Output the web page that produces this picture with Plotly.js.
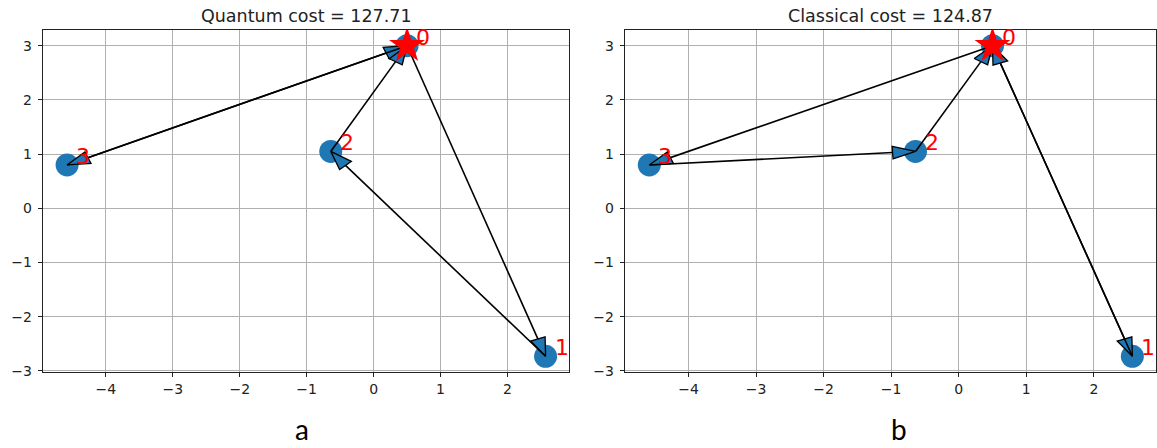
<!DOCTYPE html>
<html>
<head>
<meta charset="utf-8">
<script src="https://cdn.plot.ly/plotly-3.0.1.min.js"></script>
<style>html,body{margin:0;padding:0;background:#fff;}#chart{width:1157px;height:448px;}</style>
</head>
<body>
<div id="chart"></div>
<script>
// ---- data ----
const nodeX = [0.5, 2.57, -0.64, -4.58];
const nodeY = [3.0, -2.73, 1.05, 0.80];
const nodeLabels = ['0', '1', '2', '3'];
const depotIndex = 0;
const quantumEdges = [[0, 1], [1, 2], [2, 0], [3, 0], [0, 3]];
const classicalEdges = [[0, 1], [1, 0], [2, 0], [3, 2], [0, 3]];
const quantumTitle = 'Quantum cost = 127.71';
const classicalTitle = 'Classical cost = 124.87';
const panelCaptions = ['a', 'b'];

// ---- styling ----
const BLUE = '#1f77b4';
const HEAD_W = 0.23, HEAD_L = 0.34;
const traces = [];
const annotations = [];

function panel(edges, xa, ya, title, caption, captionX) {
  traces.push({x: nodeX, y: nodeY, xaxis: xa, yaxis: ya, mode: 'markers', type: 'scatter',
    marker: {size: 23, color: BLUE, line: {width: 0}}, hoverinfo: 'skip', showlegend: false});
  edges.forEach(([i, j]) => {
    const x0 = nodeX[i], y0 = nodeY[i], x1 = nodeX[j], y1 = nodeY[j];
    const dx = x1 - x0, dy = y1 - y0, L = Math.hypot(dx, dy);
    const ux = dx / L, uy = dy / L, px = -uy, py = ux;
    const bx = x1 - HEAD_L * ux, by = y1 - HEAD_L * uy;
    traces.push({x: [x0, bx], y: [y0, by], xaxis: xa, yaxis: ya, mode: 'lines', type: 'scatter',
      line: {color: '#000', width: 1.6}, hoverinfo: 'skip', showlegend: false});
    traces.push({x: [x1, bx + px * HEAD_W / 2, bx - px * HEAD_W / 2, x1],
      y: [y1, by + py * HEAD_W / 2, by - py * HEAD_W / 2, y1],
      xaxis: xa, yaxis: ya, mode: 'lines', type: 'scatter', fill: 'toself', fillcolor: BLUE,
      line: {color: '#000', width: 1.3}, hoverinfo: 'skip', showlegend: false});
  });
  traces.push({x: [nodeX[depotIndex]], y: [nodeY[depotIndex]], xaxis: xa, yaxis: ya, mode: 'markers', type: 'scatter',
    marker: {symbol: 'star', size: 27, color: 'red', line: {width: 0}}, hoverinfo: 'skip', showlegend: false});
  nodeLabels.forEach((t, k) => {
    annotations.push({x: nodeX[k], y: nodeY[k], xref: xa, yref: ya, text: t, showarrow: false,
      xanchor: 'left', yanchor: 'bottom', xshift: 7, yshift: -6,
      font: {family: 'DejaVu Sans', size: 22, color: 'red'}});
  });
  annotations.push({x: 0.5, xref: xa + ' domain', y: 1 - 16 / 448, yref: 'paper', text: title,
    showarrow: false, xanchor: 'center', yanchor: 'middle',
    font: {family: 'DejaVu Sans', size: 17.5, color: '#222'}});
  annotations.push({x: captionX, xref: 'paper', y: 0, yref: 'paper', text: caption,
    showarrow: false, xanchor: 'center', yanchor: 'bottom',
    font: {family: 'Lato', size: 28, color: '#000'}});
}

panel(quantumEdges, 'x', 'y', quantumTitle, panelCaptions[0], 302 / 1157);
panel(classicalEdges, 'x2', 'y2', classicalTitle, panelCaptions[1], 899 / 1157);

function axisBase(range, domain, anchor) {
  return {domain: domain, anchor: anchor, range: range, dtick: 1, tick0: 0,
    showgrid: true, gridcolor: '#b0b0b0', gridwidth: 1, zeroline: false,
    showline: true, mirror: true, linecolor: '#222', linewidth: 1.2,
    ticks: 'outside', ticklen: 4, tickcolor: '#222', tickwidth: 1,
    tickfont: {family: 'DejaVu Sans', size: 14, color: '#222'}, fixedrange: true};
}
const xRange = [-4.94, 2.92];
const yRange = [-3.02, 3.29];
const yDom = [1 - 372 / 448, 1 - 30 / 448];
const yA = axisBase(yRange, yDom, 'x'); yA.ticklabelstandoff = 3;
const yA2 = axisBase(yRange, yDom, 'x2'); yA2.ticklabelstandoff = 3;
const layout = {
  width: 1157, height: 448, margin: {l: 0, r: 0, t: 0, b: 0},
  paper_bgcolor: '#fff', plot_bgcolor: '#fff', showlegend: false,
  xaxis: axisBase(xRange, [43 / 1157, 569 / 1157], 'y'),
  yaxis: yA,
  xaxis2: axisBase(xRange, [625 / 1157, 1156 / 1157], 'y2'),
  yaxis2: yA2,
  annotations: annotations
};
Plotly.newPlot('chart', traces, layout, {displayModeBar: false, staticPlot: true});
</script>
</body>
</html>
